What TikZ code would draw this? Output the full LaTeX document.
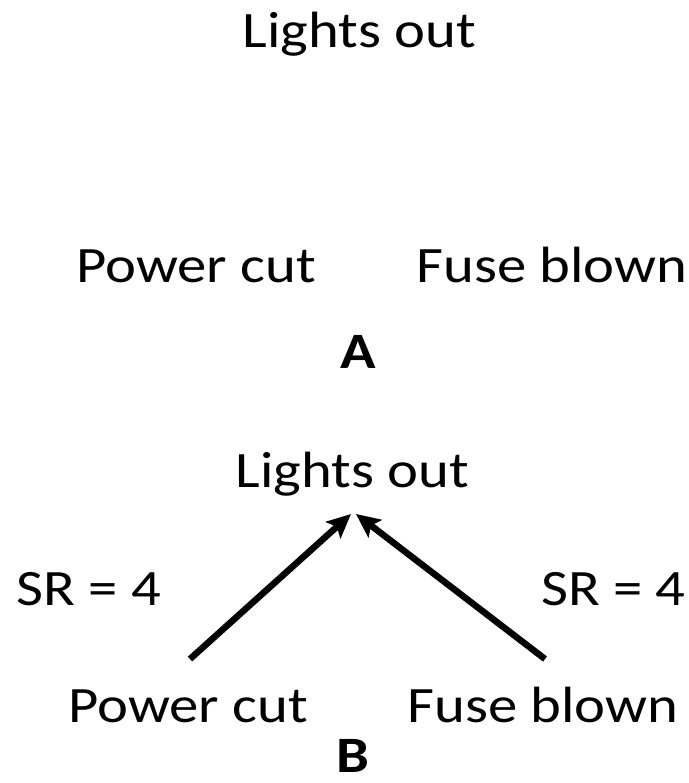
\documentclass[tikz,border=0pt]{standalone}
\usepackage{fontspec}
\setmainfont{Carlito}[FakeStretch=1.15]
\usetikzlibrary{arrows.meta}
\begin{document}
\begin{tikzpicture}[x=1pt,y=-1pt,
  lbl/.style={anchor=base,inner sep=0pt,font=\fontsize{51}{60}\selectfont},
  ttl/.style={anchor=base,inner sep=0pt,font=\fontsize{51}{60}\selectfont\bfseries},
  arr/.style={line width=6.5pt,-{Stealth[length=24pt,width=22pt,inset=5pt]}}]
\useasboundingbox (0,0) rectangle (688,783);
% Panel A
\node[lbl] (loA) at (359.5,48) {Lights out};
\node[lbl] (pcA) at (196,283) {Power cut};
\node[lbl] (fbA) at (552,283) {Fuse blown};
\node[ttl] (labA) at (358,368) {A};
% Panel B
\node[lbl] (loB) at (352.5,487) {Lights out};
\node[lbl] (srL) at (89,605) {SR = 4};
\node[lbl] (srR) at (613.5,605) {SR = 4};
\node[lbl] (pcB) at (188,722) {Power cut};
\node[lbl] (fbB) at (543,722) {Fuse blown};
\node[ttl] (labB) at (353,772) {B};
\coordinate (tailL) at (190,659);
\coordinate (tailR) at (545,659);
\coordinate (tipL) at (351,514);
\coordinate (tipR) at (356,514);
\draw[arr] (tailL) -- (tipL);
\draw[arr] (tailR) -- (tipR);
\end{tikzpicture}
\end{document}
